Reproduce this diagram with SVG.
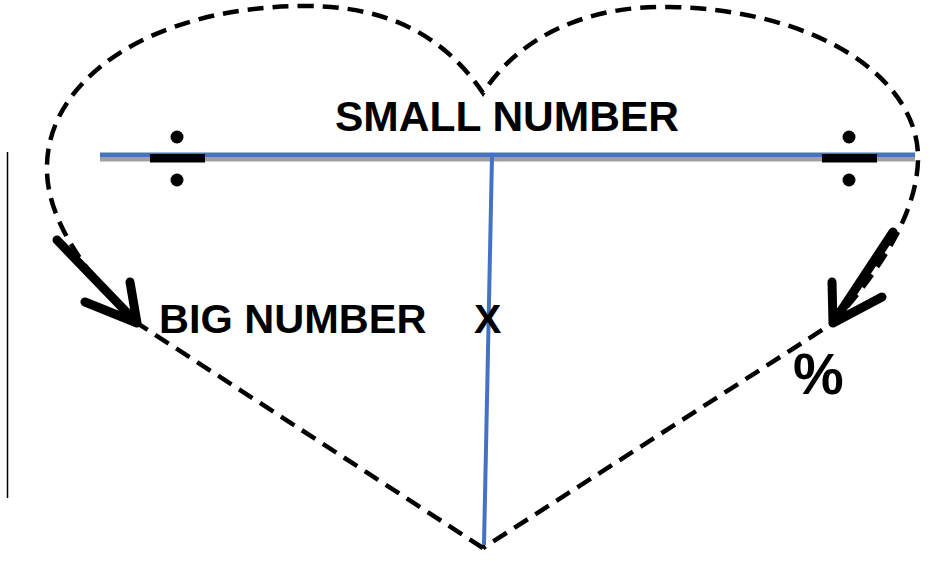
<svg xmlns="http://www.w3.org/2000/svg" width="930" height="561" viewBox="0 0 930 561">
<style>
.heart{fill:none;stroke:#000;stroke-width:4.5;stroke-dasharray:16 9}
.arrow{fill:none;stroke:#000;stroke-width:9;stroke-linecap:round;stroke-linejoin:round}
.lbl{font-family:"Liberation Sans",Arial,sans-serif;font-weight:bold;fill:#000}
</style>
<rect width="930" height="561" fill="#fff"/>
<g id="frame-line">
<line x1="7.5" y1="152" x2="7.5" y2="498" stroke="#000" stroke-width="1.5"/>
</g>
<g id="heart">
<path class="heart" d="M 483 548 L 137 323 C 80 270 47 215 47 170 C 45 80 150 8 300 6 C 380 5 440 30 483 93 C 520 35 590 5 670 7 C 820 10 920 80 918 160 C 917 205 890 260 833 323 L 483 548"/>
</g>
<g id="connectors">
<rect x="100" y="157" width="815" height="4.5" fill="#a0a0a0"/>
<rect x="100" y="152.5" width="815" height="4.5" fill="#4472c4"/>
<line x1="492" y1="156" x2="484" y2="545" stroke="#4472c4" stroke-width="4"/>
<path class="arrow" d="M 57 240 L 137 323 M 130 282 L 137 323 L 85 302"/>
<path class="arrow" d="M 893 232 L 833 323 M 832 282 L 833 323 L 882 297"/>
</g>
<g id="divide-left">
<rect x="150" y="154" width="55" height="8.5" fill="#000"/>
<circle cx="177" cy="137" r="6.5" fill="#000"/>
<circle cx="177" cy="180" r="6.5" fill="#000"/>
</g>
<g id="divide-right">
<rect x="822" y="154" width="55" height="8.5" fill="#000"/>
<circle cx="849" cy="137" r="6.5" fill="#000"/>
<circle cx="849" cy="180" r="6.5" fill="#000"/>
</g>
<g id="small-number"><text class="lbl" x="335" y="131" font-size="42.5">SMALL NUMBER</text></g>
<g id="big-number"><text class="lbl" x="159" y="333" font-size="41.5">BIG NUMBER</text></g>
<g id="x-label"><text class="lbl" x="474" y="333" font-size="41">X</text></g>
<g id="percent"><text class="lbl" x="793" y="394" font-size="57">%</text></g>
</svg>
